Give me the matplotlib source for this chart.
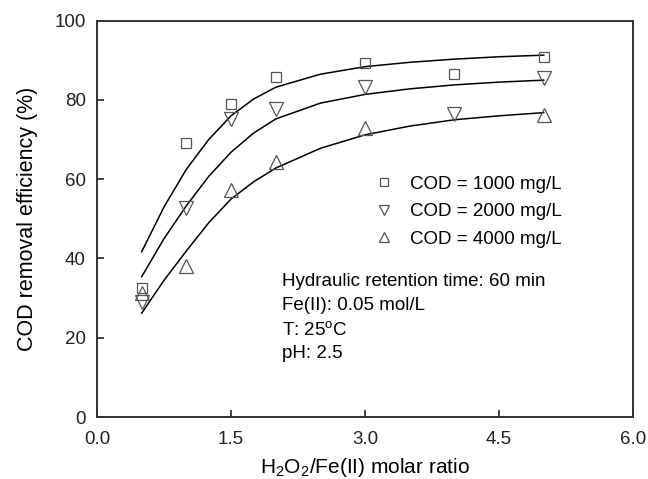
import numpy as np
import matplotlib as mpl
mpl.use("Agg")
import matplotlib.pyplot as plt

plt.rcParams["font.family"] = ["Liberation Sans", "DejaVu Sans"]
plt.rcParams["mathtext.fontset"] = "custom"
plt.rcParams["mathtext.rm"] = "Liberation Sans"
plt.rcParams["mathtext.it"] = "Liberation Sans"

# measured points
ratio = [0.5, 1.0, 1.5, 2.0, 3.0, 4.0, 5.0]
cod1000 = [32.6, 69.2, 79.1, 85.9, 89.2, 86.5, 90.8]
cod2000 = [29.1, 52.7, 75.1, 77.6, 83.2, 76.4, 85.6]
ratio4000 = [0.5, 1.0, 1.5, 2.0, 3.0, 5.0]
cod4000 = [31.2, 38.1, 57.3, 64.4, 72.8, 76.2]

# fitted curves
fit_x = [0.5, 0.75, 1.0, 1.25, 1.5, 1.75, 2.0, 2.5, 3.0, 3.5, 4.0, 4.5, 5.0]
fit1000 = [41.7, 53.0, 62.5, 70.0, 76.0, 80.2, 83.2, 86.5, 88.4, 89.5, 90.3, 90.9, 91.3]
fit2000 = [35.4, 45.0, 53.3, 60.7, 66.8, 71.6, 75.2, 79.2, 81.4, 82.8, 83.8, 84.5, 85.0]
fit4000 = [26.2, 34.5, 41.9, 49.0, 55.0, 59.3, 62.8, 67.8, 71.2, 73.4, 75.0, 76.0, 76.8]

fig = plt.figure(figsize=(6.48, 4.79), dpi=100)
ax = fig.add_axes([0.1497, 0.1294, 0.8272, 0.8274])

for fy in (fit1000, fit2000, fit4000):
    ax.plot(fit_x, fy, color="black", linewidth=1.1)

mk = dict(linestyle="none", markerfacecolor="none", markeredgecolor="#555555", markeredgewidth=0.9)
h1, = ax.plot(ratio, cod1000, marker="s", markersize=7.5, label="COD = 1000 mg/L", **mk)
h2, = ax.plot(ratio, cod2000, marker="v", markersize=10, label="COD = 2000 mg/L", **mk)
h3, = ax.plot(ratio4000, cod4000, marker="^", markersize=10, label="COD = 4000 mg/L", **mk)

ax.set_xlim(0, 6)
ax.set_ylim(0, 100)
ax.set_xticks([0.0, 1.5, 3.0, 4.5, 6.0])
ax.set_xticklabels(["0.0", "1.5", "3.0", "4.5", "6.0"])
ax.set_yticks([0, 20, 40, 60, 80, 100])
ax.tick_params(direction="in", length=5, width=1.2, labelsize=13.5, colors="#222222")
ax.tick_params(axis="x", pad=10)
ax.tick_params(axis="y", pad=8)
for s in ax.spines.values():
    s.set_linewidth(1.4)
    s.set_color("#333333")

ax.set_xlabel(r"H$_2$O$_2$/Fe(II) molar ratio", fontsize=15, labelpad=6)
ax.set_ylabel("COD removal efficiency (%)", fontsize=15.5, labelpad=12)

ax.legend(handles=[h1, h2, h3], loc="upper left", bbox_to_anchor=(0.5, 0.632),
          frameon=False, fontsize=13.5, markerscale=0.75, handlelength=1.0,
          handletextpad=0.9, labelspacing=0.55, borderpad=0)

ax.text(2.07, 34.1, "Hydraulic retention time: 60 min", fontsize=13.5, va="center")
ax.text(2.07, 28.2, "Fe(II): 0.05 mol/L", fontsize=13.5, va="center")
ax.text(2.07, 22.0, r"T: 25$^{\mathrm{o}}$C", fontsize=13.5, va="center")
ax.text(2.07, 16.0, "pH: 2.5", fontsize=13.5, va="center")

plt.savefig("out.png", dpi=100)
